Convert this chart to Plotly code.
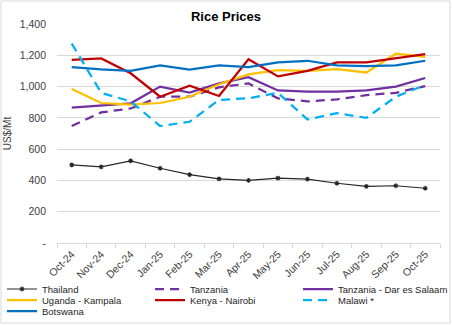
import plotly.graph_objects as go

months = ["Oct-24", "Nov-24", "Dec-24", "Jan-25", "Feb-25", "Mar-25", "Apr-25",
          "May-25", "Jun-25", "Jul-25", "Aug-25", "Sep-25", "Oct-25"]

thailand = [500, 487, 525, 478, 437, 410, 400, 415, 408, 382, 362, 366, 350]
tanzania = [748, 835, 860, 935, 935, 995, 1020, 925, 905, 918, 945, 960, 1003]
tanzania_dar = [865, 880, 893, 1000, 962, 1020, 1060, 975, 968, 968, 975, 1000, 1055]
uganda_kampala = [985, 895, 885, 895, 935, 1015, 1078, 1105, 1100, 1112, 1090, 1210, 1190]
kenya_nairobi = [1170, 1180, 1085, 935, 1005, 940, 1175, 1065, 1100, 1155, 1155, 1180, 1208]
malawi = [1275, 960, 905, 748, 775, 915, 925, 960, 790, 830, 800, 935, 1010]
botswana = [1125, 1110, 1100, 1135, 1108, 1135, 1125, 1155, 1165, 1135, 1130, 1135, 1165]

y_ticks = [0, 200, 400, 600, 800, 1000, 1200, 1400]
y_ticktext = ["-", "200", "400", "600", "800", "1,000", "1,200", "1,400"]

FONT = "Liberation Sans, Arial, sans-serif"

series = [
    ("Thailand", thailand, "#262626", "solid", 1.2),
    ("Tanzania", tanzania, "#7030A0", "9px,6px", 2.25),
    ("Tanzania - Dar es Salaam", tanzania_dar, "#7030A0", "solid", 2.25),
    ("Uganda - Kampala", uganda_kampala, "#FFC000", "solid", 2.25),
    ("Kenya - Nairobi", kenya_nairobi, "#C00000", "solid", 2.25),
    ("Malawi *", malawi, "#00B0F0", "9px,6px", 2.25),
    ("Botswana", botswana, "#0070C0", "solid", 2.25),
]

W, H = 452, 325
L, R, T, B = 57, 12, 24, 82

# legend grid: 3 columns, rows of 11 px
col_x = [2, 150, 298]
row_y = [289, 300, 311]

fig = go.Figure()
legends = {}
for i, (name, vals, color, dash, width) in enumerate(series):
    leg = "legend" if i == 0 else f"legend{i + 1}"
    if name == "Thailand":
        kw = dict(mode="lines+markers",
                  marker=dict(symbol="asterisk-open", size=4, color=color,
                              line=dict(color=color, width=1.1)))
    else:
        kw = dict(mode="lines")
    fig.add_trace(go.Scatter(x=months, y=vals, name=name, showlegend=True,
                             line=dict(color=color, dash=dash, width=width),
                             legend=leg, **kw))
    legends[leg] = dict(orientation="h", xref="container", yref="container",
                        xanchor="left", yanchor="middle",
                        x=col_x[i % 3] / W, y=1 - row_y[i // 3] / H,
                        bgcolor="rgba(0,0,0,0)", borderwidth=0,
                        font=dict(family=FONT, size=9.5, color="#262626"),
                        itemwidth=30, visible=True)

fig.update_layout(
    width=W, height=H, showlegend=True,
    margin=dict(l=L, r=R, t=T, b=B, autoexpand=False),
    paper_bgcolor="white", plot_bgcolor="white",
    font=dict(family=FONT, size=10.5, color="#404040"),
    title=dict(text="<b>Rice Prices</b>", x=0.5, xref="container", xanchor="center",
               y=1 - 16 / H, yref="container", yanchor="middle",
               font=dict(family=FONT, size=13, color="#000000")),
    xaxis=dict(type="category", range=[-0.5, 12.5], tickson="boundaries",
               ticks="outside", ticklen=4, tickcolor="#D9D9D9",
               showline=True, linecolor="#D9D9D9", linewidth=1,
               showgrid=False, tickangle=-45,
               tickfont=dict(family=FONT, size=10.5, color="#404040")),
    yaxis=dict(range=[0, 1400], tickvals=y_ticks, ticktext=y_ticktext,
               showgrid=True, gridcolor="#D9D9D9", gridwidth=1,
               zeroline=False, showline=False, ticks="",
               ticklabelstandoff=10,
               tickfont=dict(family=FONT, size=10.5, color="#404040"),
               title=dict(text="US$/Mt", standoff=6,
                          font=dict(family=FONT, size=10, color="#404040"))),
    shapes=[dict(type="rect", xref="paper", yref="paper",
                 x0=(1 - L) / (W - L - R), x1=(W - 2 - L) / (W - L - R),
                 y0=-(B - 2) / (H - T - B), y1=1 + (T - 1) / (H - T - B),
                 line=dict(color="#D9D9D9", width=1), fillcolor="rgba(0,0,0,0)",
                 layer="below")],
    **legends,
)

fig.write_html("out.html")
